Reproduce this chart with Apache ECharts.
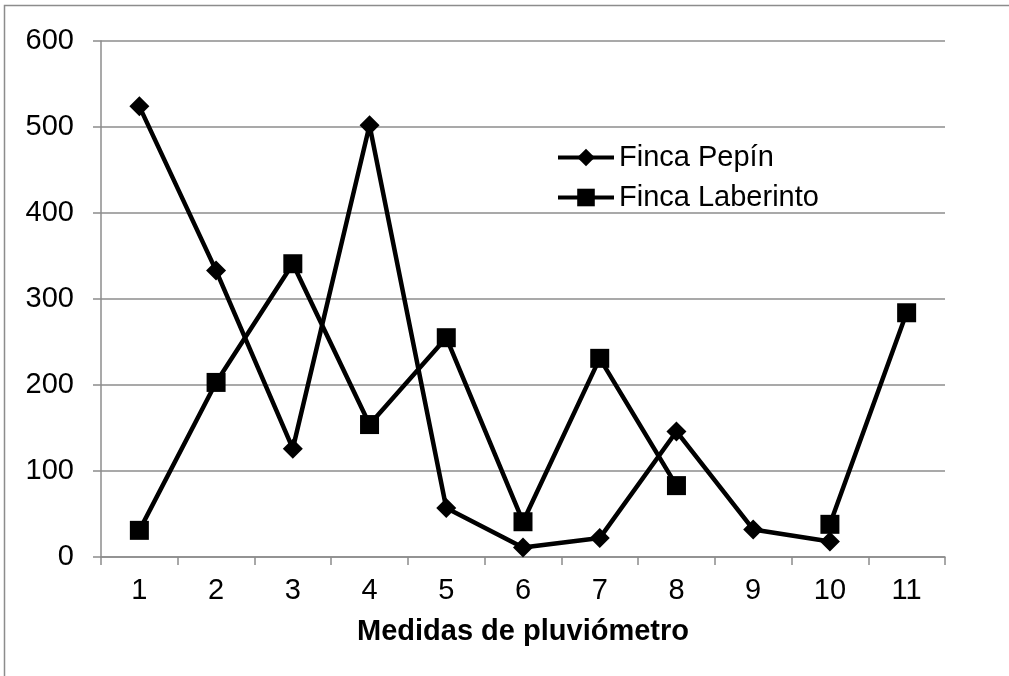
<!DOCTYPE html>
<html><head><meta charset="utf-8">
<script src="https://cdn.jsdelivr.net/npm/echarts@6/dist/echarts.min.js"></script>
<style>html,body{margin:0;padding:0;background:#fff}#c{width:1009px;height:676px}</style>
</head><body><div id="c"></div>
<script>
const categories = ['1','2','3','4','5','6','7','8','9','10','11'];
const pepin = [524, 333, 126, 502, 57, 11, 22, 146, 32, 18, null];
const laberinto = [31, 203, 341, 154, 255, 41, 231, 83, null, 38, 284];
const seriesNames = ['Finca Pepín', 'Finca Laberinto'];
const xTitle = 'Medidas de pluviómetro';

const chart = echarts.init(document.getElementById('c'), null, {renderer: 'canvas'});
const font = '"Liberation Sans", Arial, sans-serif';
chart.setOption({
  animation: false,
  backgroundColor: '#fff',
  graphic: [{type: 'rect', shape: {x: 4.5, y: 5.5, width: 1100, height: 800}, style: {fill: 'none', stroke: '#8c8c8c', lineWidth: 1.5}, silent: true}],
  grid: {left: 101, right: 64, top: 41, bottom: 119},
  legend: {
    orient: 'vertical', left: 556, top: 143, padding: 0, itemWidth: 56, itemHeight: 22, itemGap: 11,
    lineStyle: {width: 4},
    textStyle: {fontFamily: font, fontSize: 29, color: '#000'},
    data: seriesNames
  },
  xAxis: {
    type: 'category', data: categories, boundaryGap: true,
    axisLine: {lineStyle: {color: '#8c8c8c', width: 1.5}},
    axisTick: {show: true, length: 8, lineStyle: {color: '#8c8c8c', width: 1.5}},
    axisLabel: {fontFamily: font, fontSize: 29, color: '#000', margin: 19},
    name: xTitle, nameLocation: 'middle', nameGap: 60,
    nameTextStyle: {fontFamily: font, fontSize: 29, fontWeight: 'bold', color: '#000'}
  },
  yAxis: {
    type: 'value', min: 0, max: 600, interval: 100,
    axisLine: {show: true, lineStyle: {color: '#8c8c8c', width: 1.5}},
    axisTick: {show: true, length: 8, lineStyle: {color: '#8c8c8c', width: 1.5}},
    axisLabel: {fontFamily: font, fontSize: 29, color: '#000', margin: 27},
    splitLine: {lineStyle: {color: '#8c8c8c', width: 1.5}}
  },
  series: [
    {name: seriesNames[0], type: 'line', data: pepin, symbol: 'diamond', symbolSize: 20,
     showAllSymbol: true, connectNulls: false,
     lineStyle: {color: '#000', width: 4.5}, itemStyle: {color: '#000'}},
    {name: seriesNames[1], type: 'line', data: laberinto, symbol: 'rect', symbolSize: 19,
     showAllSymbol: true, connectNulls: false,
     lineStyle: {color: '#000', width: 4.5}, itemStyle: {color: '#000'}}
  ]
});
</script></body></html>
